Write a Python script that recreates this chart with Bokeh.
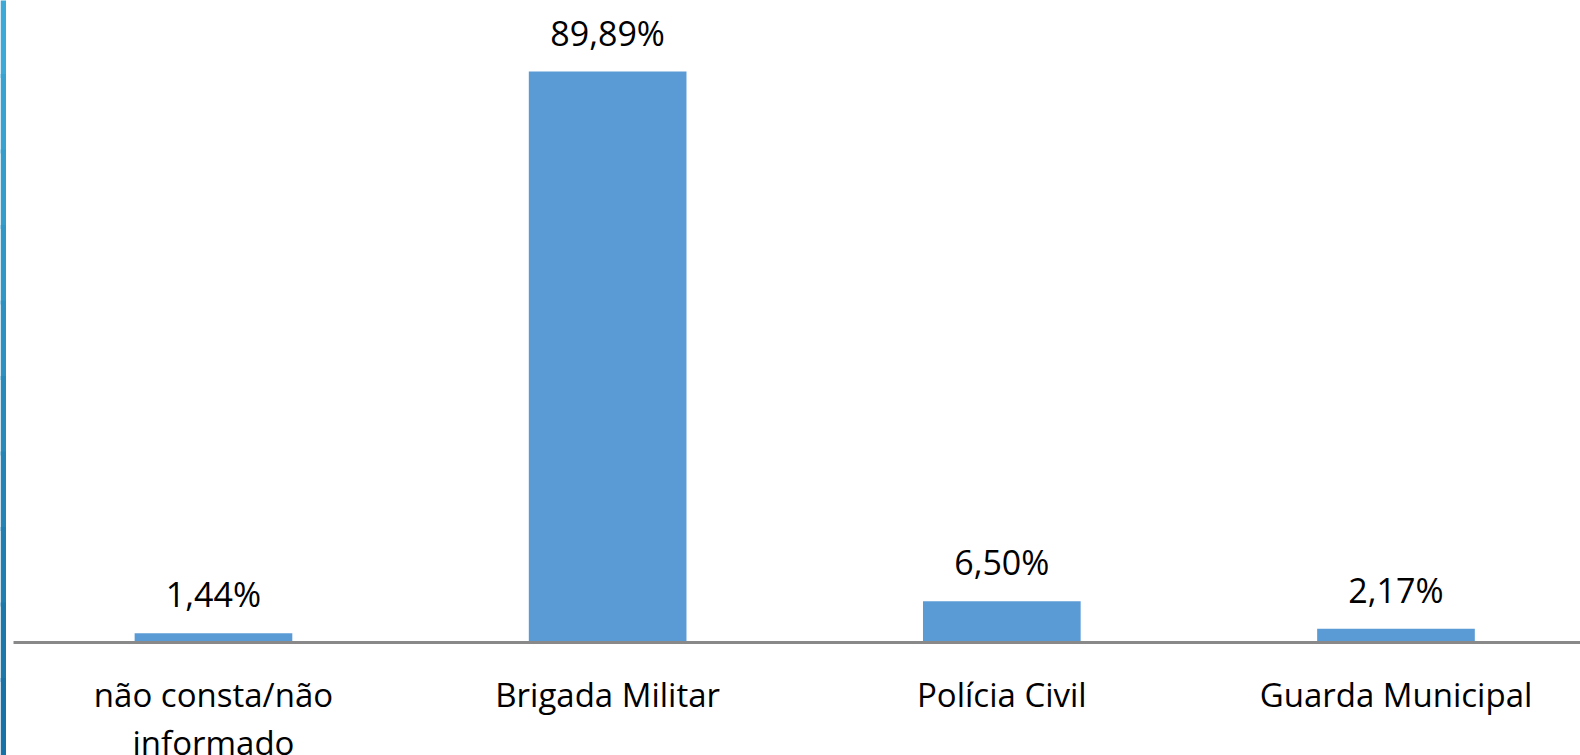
from bokeh.plotting import figure
from bokeh.models import Range1d, ColumnDataSource, LabelSet, BoxAnnotation
from bokeh.core.properties import value
from bokeh.embed import file_html
from bokeh.resources import INLINE

categories = ["não consta/não\ninformado", "Brigada Militar", "Polícia Civil", "Guarda Municipal"]
values = [1.44, 89.89, 6.50, 2.17]
value_labels = [f"{v:.2f}".replace(".", ",") + "%" for v in values]

FONT = "Open Sans"
xs = list(range(len(categories)))
line1 = [c.split("\n")[0] for c in categories]
line2 = [c.split("\n")[1] if "\n" in c else "" for c in categories]
src = ColumnDataSource(dict(x=xs, top=values, base=[0] * len(xs), lab=value_labels,
                            l1=line1, l2=line2))

Y0, Y1 = -17.79, 101.07
p = figure(width=1580, height=755, output_backend="svg", toolbar_location=None,
           x_range=Range1d(-0.5403, 3.4681), y_range=Range1d(Y0, Y1),
           min_border_left=0, min_border_right=0, min_border_top=0, min_border_bottom=0)
p.outline_line_color = None
p.xgrid.visible = False
p.ygrid.visible = False
p.yaxis.visible = False
p.xaxis.visible = False

# decorative gradient strip at the left edge
top_c = (0x3C, 0xA9, 0xD6)
bot_c = (0x18, 0x72, 0xA6)
n = 10
step = (Y1 - Y0) / n
for i in range(n):
    t = i / (n - 1)
    c = tuple(int(round(top_c[k] + (bot_c[k] - top_c[k]) * t)) for k in range(3))
    hi = Y1 - step * i + 0.3
    lo = Y1 - step * (i + 1) - 0.3
    p.add_layout(BoxAnnotation(left=0, right=5.5, left_units="screen", right_units="screen",
                               top=hi, bottom=lo, fill_color="#%02x%02x%02x" % c,
                               fill_alpha=1, line_alpha=0))

p.vbar(x="x", top="top", bottom=0, width=0.4, source=src,
       fill_color="#5B9BD5", line_color=None)

# baseline (category axis line)
p.add_layout(BoxAnnotation(left=13, left_units="screen", top=0, bottom=0,
                           fill_alpha=0, line_color="#898989", line_alpha=1, line_width=3))

p.add_layout(LabelSet(x="x", y="top", text="lab", source=src, text_align="center",
                      text_baseline="alphabetic", y_offset=26, text_color="#000000",
                      text_font=value(FONT), text_font_size="34px"))

p.add_layout(LabelSet(x="x", y="base", text="l1", source=src, text_align="center",
                      text_baseline="top", y_offset=-30, text_color="#000000",
                      text_font=value(FONT), text_font_size="33px"))
p.add_layout(LabelSet(x="x", y="base", text="l2", source=src, text_align="center",
                      text_baseline="top", y_offset=-78, text_color="#000000",
                      text_font=value(FONT), text_font_size="33px"))

open("out.html", "w").write(file_html(p, INLINE))
